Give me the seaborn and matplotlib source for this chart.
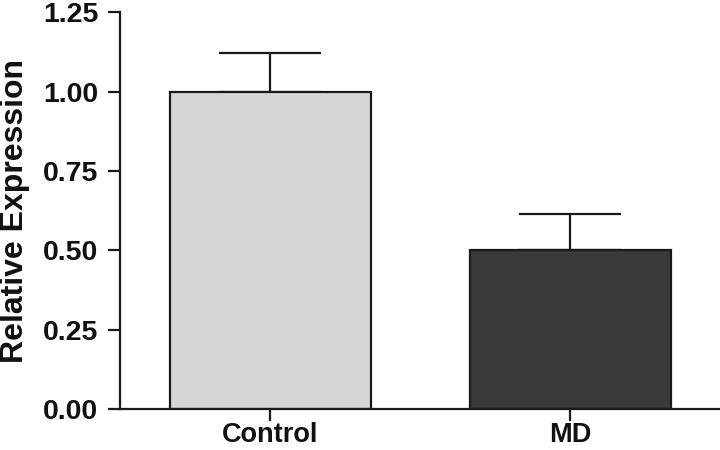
import numpy as np
import pandas as pd
import matplotlib
matplotlib.use("Agg")
import matplotlib.pyplot as plt
import seaborn as sns

# Datos
grupos = ["Control", "MD"]
expresion = [1.00, 0.50]
error_sup = [0.12, 0.115]
colores = ["#d6d6d6", "#3a3a3a"]

df = pd.DataFrame({"grupo": grupos, "expresion": expresion})

sns.set_style("ticks")
plt.rcParams["font.family"] = ["Liberation Sans", "DejaVu Sans"]
plt.rcParams["font.weight"] = "bold"
plt.rcParams["text.color"] = "#111111"

fig = plt.figure(figsize=(7.2, 4.5), dpi=100)
ax = fig.add_axes([0.1667, 0.091, 0.8333, 0.882])

sns.barplot(data=df, x="grupo", y="expresion", hue="grupo", palette=colores,
            order=grupos, width=0.67, edgecolor="#1a1a1a", linewidth=1.6,
            errorbar=None, legend=False, ax=ax, zorder=2)

# barras de error solo hacia arriba
xpos = np.arange(len(grupos))
ax.errorbar(xpos, expresion, yerr=[np.zeros(len(grupos)), error_sup], fmt="none",
            ecolor="#1a1a1a", elinewidth=1.6, capsize=36.5, capthick=1.6, zorder=1)

ax.set_xlim(-0.5, 1.5)
ax.set_ylim(0, 1.25)
ax.set_yticks([0, 0.25, 0.5, 0.75, 1.0, 1.25])
ax.set_yticklabels(["0.00", "0.25", "0.50", "0.75", "1.00", "1.25"])
ax.set_xlabel("")
ax.set_ylabel("Relative Expression", fontsize=23, fontweight="bold", color="#111111")
ax.yaxis.set_label_coords(-0.15, 0.5)
ax.tick_params(axis="both", width=1.6, length=8.5, color="#1a1a1a", labelcolor="#111111")
ax.tick_params(axis="y", pad=7, labelsize=20.5)
ax.tick_params(axis="x", pad=1, labelsize=19.5)
for lab in ax.get_xticklabels() + ax.get_yticklabels():
    lab.set_fontweight("bold")

for s in ["top", "right"]:
    ax.spines[s].set_visible(False)
for s in ["left", "bottom"]:
    ax.spines[s].set_linewidth(1.6)
    ax.spines[s].set_color("#1a1a1a")

fig.savefig("out.png", dpi=100)
